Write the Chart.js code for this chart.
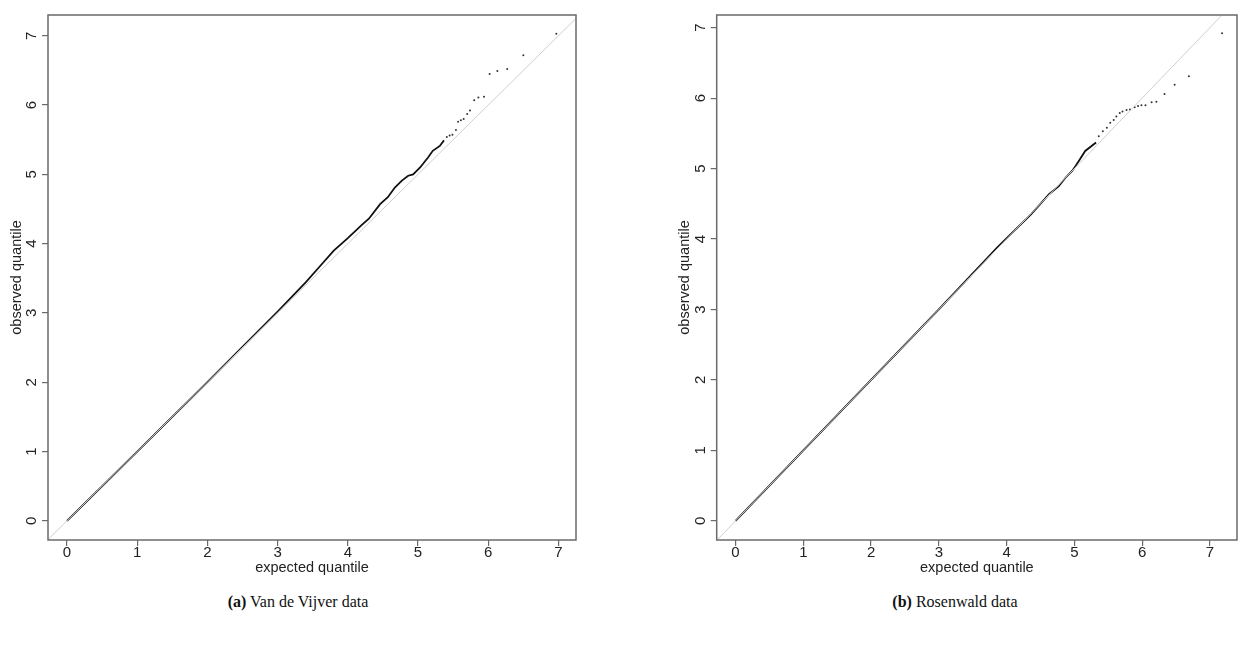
<!DOCTYPE html>
<html>
<head>
<meta charset="utf-8">
<script src="https://cdn.jsdelivr.net/npm/chart.js@4"></script>
<style>
  body { margin: 0; background: #fff; width: 1241px; height: 646px; overflow: hidden; position: relative; }
  .panel { position: absolute; top: 0; }
  .caption { position: absolute; top: 593px; font-family: "Liberation Serif", serif; font-size: 16px; color: #111; white-space: nowrap; transform: translateX(-50%); }
</style>
</head>
<body>
<div class="panel" style="left:0"><canvas id="vdv" width="620" height="590"></canvas></div>
<div class="panel" style="left:620px"><canvas id="ros" width="621" height="590"></canvas></div>
<div class="caption" style="left:298px"><b>(a)</b> Van de Vijver data</div>
<div class="caption" style="left:955px"><b>(b)</b> Rosenwald data</div>
<script>
var tickValues = [0, 1, 2, 3, 4, 5, 6, 7];
var diagonal = [-1, 8];

// Van de Vijver: the dense part of the QQ curve, then the sparse upper tail
var vdvExpected = [0, 1, 2, 3, 3.4, 3.6, 3.8, 4.0, 4.2, 4.3, 4.46, 4.57, 4.67, 4.77, 4.86, 4.93, 5.03, 5.10, 5.14, 5.21, 5.31, 5.37];
var vdvObserved = [0, 1, 2, 3.02, 3.44, 3.67, 3.9, 4.08, 4.27, 4.36, 4.57, 4.67, 4.81, 4.91, 4.98, 5.00, 5.10, 5.19, 5.24, 5.34, 5.41, 5.49];
var vdvTailExpected = [5.41, 5.45, 5.49, 5.54, 5.57, 5.61, 5.65, 5.70, 5.74, 5.80, 5.86, 5.94, 6.02, 6.13, 6.27, 6.50, 6.97];
var vdvTailObserved = [5.54, 5.56, 5.57, 5.64, 5.76, 5.78, 5.80, 5.87, 5.92, 6.07, 6.11, 6.12, 6.45, 6.49, 6.52, 6.72, 7.03];

// Rosenwald
var rosExpected = [0, 1, 2, 3, 3.87, 4.36, 4.50, 4.63, 4.77, 4.87, 4.97, 5.02, 5.08, 5.16, 5.32];
var rosObserved = [0, 1, 2, 3, 3.89, 4.35, 4.50, 4.64, 4.75, 4.87, 4.97, 5.04, 5.13, 5.25, 5.37];
var rosTailExpected = [5.36, 5.42, 5.48, 5.53, 5.58, 5.62, 5.67, 5.71, 5.77, 5.82, 5.89, 5.94, 5.99, 6.05, 6.14, 6.21, 6.33, 6.48, 6.69, 7.18];
var rosTailObserved = [5.46, 5.53, 5.58, 5.65, 5.69, 5.74, 5.79, 5.81, 5.83, 5.84, 5.87, 5.89, 5.90, 5.90, 5.94, 5.95, 6.06, 6.19, 6.31, 6.92];

function pairs(xs, ys) {
  return xs.map(function (x, i) { return { x: x, y: ys[i] }; });
}

// R-style box around the plot region
var boxPlugin = {
  id: 'box',
  afterDatasetsDraw: function (chart) {
    var a = chart.chartArea, ctx = chart.ctx;
    ctx.save();
    ctx.strokeStyle = '#6a6a6a';
    ctx.lineWidth = 1.5;
    ctx.strokeRect(a.left, a.top, a.right - a.left, a.bottom - a.top);
    ctx.restore();
  }
};

var font = 'Liberation Sans, Arial, sans-serif';

function qqChart(id, dense, tail, xr, yr, pad) {
  var axisGrid = { display: true, drawOnChartArea: false, drawTicks: true, tickLength: 6, color: '#6a6a6a', lineWidth: 1.2 };
  return new Chart(document.getElementById(id), {
    type: 'scatter',
    data: {
      datasets: [
        {
          data: pairs(diagonal, diagonal),
          showLine: true, borderColor: '#cfcfcf', borderWidth: 1, pointRadius: 0, clip: 0
        },
        {
          data: dense,
          showLine: true, borderColor: '#111', borderWidth: 1.8, pointRadius: 0
        },
        {
          data: tail,
          showLine: false, pointRadius: 1, backgroundColor: '#333', borderWidth: 0
        }
      ]
    },
    options: {
      responsive: false,
      animation: false,
      events: [],
      layout: { padding: pad },
      plugins: { legend: { display: false }, tooltip: { enabled: false } },
      scales: {
        x: {
          type: 'linear', min: xr[0], max: xr[1],
          afterBuildTicks: function (s) { s.ticks = tickValues.map(function (v) { return { value: v }; }); },
          afterFit: function (s) { s.height = 50; },
          grid: axisGrid,
          border: { display: false },
          ticks: { font: { family: font, size: 15 }, color: '#222', padding: -2, maxRotation: 0, minRotation: 0 },
          title: { display: true, text: 'expected quantile', font: { family: font, size: 14.5 }, color: '#222', padding: { top: 0, bottom: 13 } }
        },
        y: {
          type: 'linear', min: yr[0], max: yr[1],
          afterBuildTicks: function (s) { s.ticks = tickValues.map(function (v) { return { value: v }; }); },
          afterFit: function (s) { s.width = 48; },
          grid: axisGrid,
          border: { display: false },
          ticks: { font: { family: font, size: 15 }, color: '#222', padding: 6, minRotation: 90, maxRotation: 90, crossAlign: 'center' },
          title: { display: true, text: 'observed quantile', font: { family: font, size: 14.5 }, color: '#222', padding: { top: 8, bottom: 0 } }
        }
      }
    },
    plugins: [boxPlugin]
  });
}

qqChart('vdv', pairs(vdvExpected, vdvObserved), pairs(vdvTailExpected, vdvTailObserved),
  [-0.27, 7.25], [-0.277, 7.30], { top: 11, right: 44, left: 0, bottom: 0 });
qqChart('ros', pairs(rosExpected, rosObserved), pairs(rosTailExpected, rosTailObserved),
  [-0.278, 7.40], [-0.272, 7.18], { top: 11, right: 0, left: 48.7, bottom: 0 });
</script>
</body>
</html>
